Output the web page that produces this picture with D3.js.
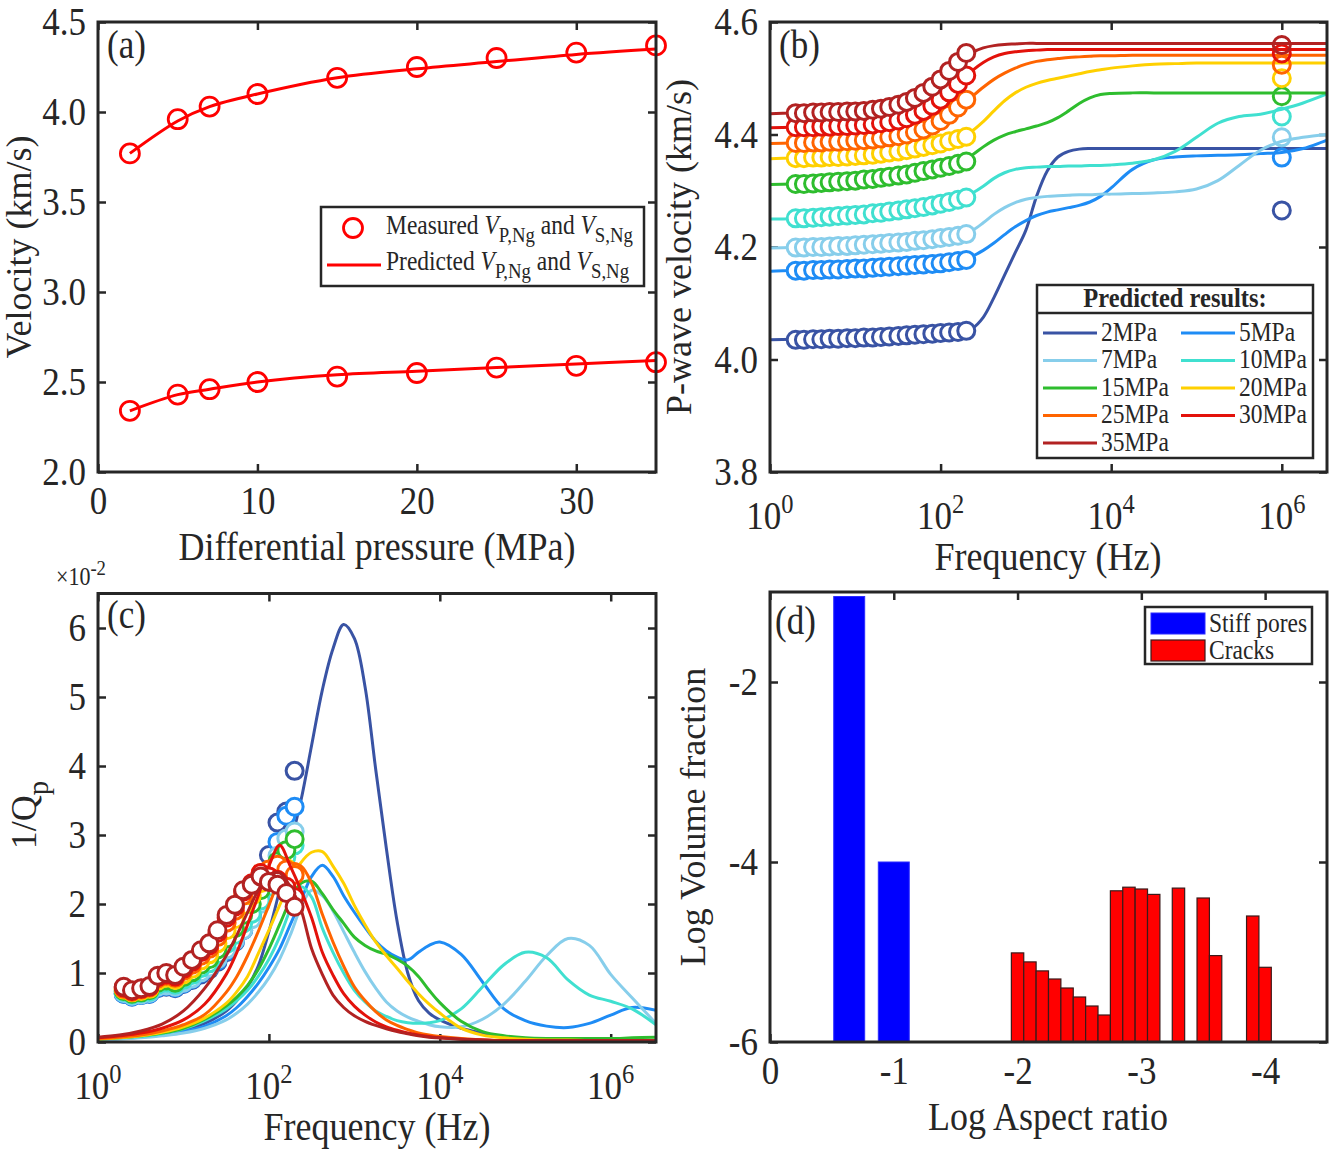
<!DOCTYPE html>
<html>
<head>
<meta charset="utf-8">
<script src="https://cdn.jsdelivr.net/npm/d3@7/dist/d3.min.js"></script>
<style>
  html, body { margin: 0; padding: 0; background: #fff; }
  svg { display: block; }
</style>
</head>
<body>
<svg id="fig" width="1330" height="1149"></svg>
<script>
// ---------------- (a) velocity vs differential pressure ----------------
const diffPressure = [2, 5, 7, 10, 15, 20, 25, 30, 35];
const vpMeasured  = [3.77, 3.96, 4.03, 4.10, 4.19, 4.25, 4.30, 4.33, 4.37];
const vsMeasured  = [2.34, 2.43, 2.46, 2.50, 2.53, 2.55, 2.58, 2.59, 2.61];
const vpPredicted = [3.77, 3.95, 4.03, 4.10, 4.19, 4.24, 4.28, 4.32, 4.35];
const vsPredicted = [2.34, 2.43, 2.46, 2.50, 2.54, 2.56, 2.58, 2.60, 2.62];
const xTicksA = [0, 10, 20, 30];
const yTicksA = [2.0, 2.5, 3.0, 3.5, 4.0, 4.5];

// ---------------- shared by (b) and (c) ----------------
const pressureNames  = ["2MPa", "5MPa", "7MPa", "10MPa", "15MPa", "20MPa", "25MPa", "30MPa", "35MPa"];
const pressureColors = ["#3953a4", "#1e8cf5", "#87ceeb", "#40e0d0", "#2ebd2e", "#ffd000", "#ff6400", "#e3120b", "#b22222"];
const freqMeasured = [2, 2.5, 3.2, 4, 5, 6.3, 8, 10, 12.6, 16, 20, 25, 32, 40, 50, 63, 80, 100, 126, 160, 200];
const freqUltrasonic = 1e6;
// model curves are sampled at these powers of ten (Hz)
const modelFreqExp = [0, 0.25, 0.5, 0.75, 1, 1.25, 1.5, 1.625, 1.75, 1.875, 2, 2.125, 2.25, 2.375, 2.5, 2.625, 2.75, 2.875, 3,
  3.125, 3.25, 3.375, 3.5, 3.625, 3.75, 3.875, 4, 4.25, 4.5, 4.75, 5, 5.25, 5.5, 5.75, 6, 6.25, 6.53];
const freqTickExp = [0, 2, 4, 6];

// ---------------- (b) P-wave velocity (km/s) ----------------
const vpMeas_2MPa  = [4.035,4.035,4.036,4.036,4.037,4.037,4.038,4.038,4.039,4.039,4.040,4.041,4.042,4.043,4.044,4.045,4.046,4.047,4.048,4.049,4.051];
const vpMeas_5MPa  = [4.158,4.158,4.159,4.159,4.160,4.160,4.161,4.162,4.162,4.163,4.164,4.165,4.166,4.167,4.168,4.169,4.170,4.171,4.173,4.175,4.177];
const vpMeas_7MPa  = [4.199,4.199,4.200,4.200,4.201,4.202,4.202,4.203,4.204,4.205,4.206,4.207,4.208,4.209,4.211,4.212,4.214,4.216,4.218,4.220,4.223];
const vpMeas_10MPa = [4.251,4.251,4.252,4.253,4.254,4.255,4.256,4.257,4.258,4.260,4.261,4.263,4.265,4.267,4.269,4.271,4.274,4.277,4.280,4.284,4.288];
const vpMeas_15MPa = [4.312,4.312,4.313,4.314,4.315,4.316,4.317,4.318,4.320,4.321,4.323,4.325,4.327,4.329,4.332,4.335,4.338,4.341,4.344,4.348,4.352];
const vpMeas_20MPa = [4.358,4.358,4.359,4.359,4.360,4.360,4.361,4.362,4.363,4.364,4.366,4.368,4.370,4.372,4.375,4.378,4.381,4.384,4.388,4.392,4.396];
const vpMeas_25MPa = [4.385,4.385,4.386,4.386,4.387,4.387,4.388,4.389,4.390,4.391,4.393,4.395,4.397,4.400,4.404,4.409,4.416,4.424,4.435,4.448,4.462];
const vpMeas_30MPa = [4.413,4.413,4.413,4.414,4.414,4.415,4.415,4.416,4.417,4.418,4.420,4.422,4.425,4.429,4.435,4.442,4.451,4.462,4.475,4.490,4.505];
const vpMeas_35MPa = [4.438,4.438,4.439,4.439,4.440,4.440,4.441,4.441,4.442,4.444,4.446,4.449,4.453,4.458,4.465,4.474,4.485,4.498,4.513,4.529,4.545];
const vpUltrasonic = [4.265, 4.359, 4.395, 4.432, 4.468, 4.500, 4.524, 4.544, 4.559];

const vpModel_2MPa  = [4.035,4.036,4.037,4.038,4.039,4.040,4.042,4.043,4.044,4.046,4.048,4.050,4.052,4.056,4.075,4.110,4.150,4.190,4.230,
  4.290,4.335,4.360,4.370,4.374,4.375,4.375,4.375,4.375,4.375,4.375,4.375,4.375,4.375,4.375,4.375,4.375,4.375];
const vpModel_5MPa  = [4.157,4.158,4.159,4.160,4.161,4.163,4.165,4.167,4.169,4.171,4.173,4.176,4.179,4.184,4.194,4.207,4.222,4.236,4.247,
  4.256,4.262,4.266,4.270,4.274,4.280,4.290,4.305,4.338,4.355,4.360,4.362,4.363,4.364,4.366,4.368,4.375,4.390];
const vpModel_7MPa  = [4.198,4.199,4.200,4.201,4.202,4.204,4.206,4.208,4.210,4.213,4.216,4.219,4.223,4.230,4.243,4.258,4.270,4.279,4.285,
  4.288,4.290,4.291,4.292,4.293,4.293,4.294,4.294,4.295,4.296,4.298,4.303,4.318,4.345,4.372,4.388,4.395,4.400];
const vpModel_10MPa = [4.250,4.250,4.252,4.254,4.256,4.259,4.263,4.266,4.269,4.272,4.276,4.281,4.287,4.296,4.308,4.322,4.332,4.338,4.341,
  4.342,4.343,4.343,4.344,4.344,4.345,4.345,4.346,4.349,4.355,4.370,4.395,4.420,4.432,4.436,4.445,4.456,4.472];
const vpModel_15MPa = [4.311,4.312,4.313,4.315,4.317,4.320,4.324,4.327,4.330,4.334,4.339,4.345,4.353,4.364,4.378,4.390,4.399,4.405,4.410,
  4.415,4.421,4.430,4.442,4.455,4.465,4.471,4.473,4.474,4.474,4.474,4.474,4.474,4.474,4.474,4.474,4.474,4.474];
const vpModel_20MPa = [4.357,4.358,4.359,4.360,4.361,4.363,4.366,4.369,4.373,4.378,4.384,4.390,4.397,4.407,4.423,4.442,4.460,4.474,4.484,
  4.491,4.496,4.500,4.504,4.508,4.512,4.515,4.518,4.522,4.525,4.526,4.527,4.527,4.527,4.527,4.527,4.527,4.527];
const vpModel_25MPa = [4.384,4.385,4.386,4.387,4.389,4.392,4.397,4.401,4.407,4.414,4.424,4.436,4.451,4.468,4.484,4.498,4.509,4.518,4.525,
  4.530,4.533,4.535,4.537,4.538,4.539,4.540,4.540,4.541,4.541,4.541,4.541,4.541,4.541,4.541,4.541,4.541,4.541];
const vpModel_30MPa = [4.412,4.413,4.413,4.414,4.416,4.419,4.425,4.430,4.438,4.448,4.462,4.479,4.497,4.514,4.528,4.538,4.544,4.547,4.549,
  4.550,4.551,4.551,4.551,4.551,4.551,4.551,4.551,4.551,4.551,4.551,4.551,4.551,4.551,4.551,4.551,4.551,4.551];
const vpModel_35MPa = [4.437,4.438,4.439,4.440,4.441,4.444,4.453,4.459,4.468,4.481,4.497,4.514,4.532,4.546,4.554,4.558,4.560,4.561,4.562,
  4.562,4.562,4.562,4.562,4.562,4.562,4.562,4.562,4.562,4.562,4.562,4.562,4.562,4.562,4.562,4.562,4.562,4.562];
const yTicksB = [3.8, 4.0, 4.2, 4.4, 4.6];

// ---------------- (c) P-wave attenuation 1/Qp, in units of 1e-2 ----------------
const qMeas_2MPa  = [0.70,0.66,0.68,0.70,0.78,0.80,0.78,0.84,0.90,0.98,1.05,1.16,1.30,1.45,1.62,1.85,2.25,2.71,3.18,3.34,3.93];
const qMeas_5MPa  = [0.70,0.66,0.68,0.70,0.79,0.81,0.79,0.85,0.91,1.00,1.07,1.18,1.32,1.46,1.62,1.80,2.05,2.45,2.90,3.28,3.41];
const qMeas_7MPa  = [0.71,0.67,0.69,0.71,0.80,0.82,0.80,0.86,0.92,1.01,1.08,1.20,1.34,1.47,1.62,1.78,2.00,2.35,2.70,2.95,3.05];
const qMeas_10MPa = [0.73,0.69,0.71,0.73,0.83,0.86,0.83,0.90,0.97,1.07,1.14,1.27,1.42,1.55,1.72,1.86,2.05,2.25,2.48,2.68,2.85];
const qMeas_15MPa = [0.74,0.70,0.72,0.75,0.86,0.89,0.86,0.94,1.01,1.12,1.20,1.34,1.50,1.65,1.84,2.00,2.20,2.45,2.62,2.78,2.94];
const qMeas_20MPa = [0.76,0.72,0.74,0.77,0.89,0.93,0.90,0.98,1.06,1.18,1.27,1.43,1.62,1.78,1.98,2.12,2.30,2.40,2.48,2.52,2.45];
const qMeas_25MPa = [0.77,0.73,0.76,0.79,0.92,0.96,0.93,1.03,1.12,1.25,1.35,1.52,1.73,1.90,2.12,2.28,2.45,2.50,2.57,2.50,2.42];
const qMeas_30MPa = [0.79,0.74,0.77,0.80,0.94,0.98,0.95,1.06,1.16,1.30,1.40,1.58,1.80,1.96,2.18,2.30,2.45,2.40,2.35,2.25,2.10];
const qMeas_35MPa = [0.80,0.75,0.78,0.81,0.96,1.00,0.97,1.09,1.19,1.33,1.43,1.62,1.84,1.99,2.20,2.28,2.40,2.32,2.28,2.16,1.96];

const qModel_2MPa  = [0.04,0.06,0.08,0.12,0.18,0.27,0.45,0.60,0.80,1.10,1.60,2.20,2.85,3.50,4.30,5.10,5.70,6.05,5.85,
  5.15,3.95,2.80,1.75,1.00,0.60,0.42,0.32,0.20,0.13,0.08,0.05,0.04,0.03,0.03,0.02,0.02,0.02];
const qModel_5MPa  = [0.04,0.05,0.07,0.10,0.15,0.23,0.38,0.50,0.66,0.85,1.08,1.35,1.70,2.05,2.40,2.56,2.40,2.12,1.88,
  1.66,1.46,1.32,1.23,1.19,1.30,1.40,1.45,1.27,0.87,0.48,0.31,0.23,0.21,0.27,0.39,0.50,0.46];
const qModel_7MPa  = [0.03,0.04,0.06,0.09,0.13,0.20,0.32,0.42,0.55,0.72,0.93,1.20,1.55,1.95,2.20,2.12,1.90,1.60,1.30,
  1.02,0.78,0.58,0.45,0.36,0.30,0.25,0.22,0.22,0.33,0.55,0.88,1.25,1.50,1.40,0.98,0.64,0.27];
const qModel_10MPa = [0.04,0.06,0.08,0.12,0.19,0.31,0.48,0.60,0.75,0.95,1.20,1.52,1.92,2.25,2.10,1.65,1.30,1.00,0.75,
  0.58,0.45,0.37,0.31,0.28,0.27,0.28,0.31,0.48,0.80,1.12,1.30,1.22,0.90,0.68,0.59,0.48,0.25];
const qModel_15MPa = [0.04,0.06,0.09,0.13,0.20,0.33,0.52,0.65,0.82,1.05,1.35,1.70,2.05,2.30,2.33,2.15,1.92,1.72,1.52,
  1.40,1.32,1.27,1.20,1.10,0.95,0.75,0.57,0.30,0.15,0.09,0.06,0.05,0.05,0.05,0.05,0.06,0.07];
const qModel_20MPa = [0.04,0.06,0.09,0.14,0.22,0.35,0.56,0.73,0.95,1.28,1.62,1.98,2.32,2.60,2.75,2.76,2.55,2.30,1.98,
  1.70,1.45,1.25,1.07,0.88,0.70,0.55,0.42,0.20,0.10,0.06,0.04,0.03,0.03,0.02,0.02,0.02,0.02];
const qModel_25MPa = [0.05,0.07,0.10,0.16,0.25,0.40,0.72,0.95,1.25,1.60,1.98,2.35,2.58,2.55,2.30,1.85,1.45,1.10,0.80,
  0.60,0.44,0.32,0.24,0.18,0.13,0.10,0.08,0.05,0.03,0.02,0.02,0.02,0.02,0.02,0.02,0.02,0.02];
const qModel_30MPa = [0.06,0.09,0.13,0.20,0.32,0.55,0.98,1.30,1.70,2.12,2.55,2.85,2.55,2.20,1.80,1.30,0.97,0.70,0.52,
  0.39,0.29,0.22,0.17,0.13,0.10,0.08,0.06,0.04,0.03,0.02,0.02,0.02,0.02,0.02,0.02,0.02,0.02];
const qModel_35MPa = [0.07,0.10,0.16,0.26,0.45,0.78,1.25,1.55,1.88,2.20,2.42,2.45,2.25,1.92,1.35,0.98,0.68,0.50,0.38,
  0.30,0.24,0.19,0.15,0.12,0.09,0.07,0.06,0.04,0.03,0.02,0.02,0.02,0.02,0.02,0.02,0.02,0.02];
const yTicksC = [0, 1, 2, 3, 4, 5, 6];

// ---------------- (d) pore aspect-ratio spectrum ----------------
const stiffAspect = [-0.64, -1.0];
const stiffLogFraction = [-1.05, -4.0];
const crackAspect = [-2.0, -2.1, -2.2, -2.3, -2.4, -2.5, -2.6, -2.7, -2.8, -2.9, -3.0, -3.1, -3.3, -3.5, -3.6, -3.9, -4.0];
const crackLogFraction = [-5.01, -5.11, -5.21, -5.30, -5.40, -5.50, -5.60, -5.70, -4.32, -4.28, -4.30, -4.36, -4.29, -4.40, -5.04, -4.60, -5.17];
const xTicksD = [0, -1, -2, -3, -4];
const yTicksD = [-6, -4, -2];

// ====================================================================
const FONT = '"Liberation Serif", "Times New Roman", Times, serif';
const INK = "#262626";
const TICK_FS = 35, LABEL_FS = 36, LEG_FS = 23.5;
const MARK_R = 8.5, MARK_W = 3;
const GLYPH_STRETCH = 1.12;   // the serif face is set slightly tall
const svg = d3.select("#fig");

const vpMeasByP  = [vpMeas_2MPa, vpMeas_5MPa, vpMeas_7MPa, vpMeas_10MPa, vpMeas_15MPa, vpMeas_20MPa, vpMeas_25MPa, vpMeas_30MPa, vpMeas_35MPa];
const vpModelByP = [vpModel_2MPa, vpModel_5MPa, vpModel_7MPa, vpModel_10MPa, vpModel_15MPa, vpModel_20MPa, vpModel_25MPa, vpModel_30MPa, vpModel_35MPa];
const qMeasByP   = [qMeas_2MPa, qMeas_5MPa, qMeas_7MPa, qMeas_10MPa, qMeas_15MPa, qMeas_20MPa, qMeas_25MPa, qMeas_30MPa, qMeas_35MPa];
const qModelByP  = [qModel_2MPa, qModel_5MPa, qModel_7MPa, qModel_10MPa, qModel_15MPa, qModel_20MPa, qModel_25MPa, qModel_30MPa, qModel_35MPa];
const modelFreq = modelFreqExp.map(e => Math.pow(10, e));

// text with optional italic / sub / superscript runs
function richText(parent, x, y, parts, size, anchor, extra) {
  const t = parent.append("text")
    .attr("x", x).attr("y", y)
    .attr("font-family", FONT).attr("font-size", size)
    .attr("fill", INK).attr("text-anchor", anchor || "start");
  if (extra) extra(t);
  let shift = 0;
  parts.forEach(p => {
    const target = p.sub ? size * 0.32 : p.sup ? -size * 0.42 : 0;
    const ts = t.append("tspan").attr("dy", target - shift).text(p.t);
    shift = target;
    if (p.sub || p.sup) ts.attr("font-size", size * (p.scale || 0.75));
    if (p.italic) ts.attr("font-style", "italic");
    if (p.bold) ts.attr("font-weight", "bold");
  });
  return t;
}

// box with inward ticks on all four sides
function drawFrame(g, x, y, xTicks, yTicks, xFmt, yFmt, xPad) {
  const xr = x.range(), yr = y.range();
  const L = Math.min(...xr), R = Math.max(...xr), T = Math.min(...yr), B = Math.max(...yr);
  const tk = 8;
  g.append("g").attr("transform", `translate(0,${B})`)
    .call(d3.axisBottom(x).tickValues(xTicks).tickSize(-tk).tickPadding(xPad).tickFormat(xFmt));
  g.append("g").attr("transform", `translate(0,${T})`)
    .call(d3.axisTop(x).tickValues(xTicks).tickSize(-tk).tickFormat(() => ""));
  g.append("g").attr("transform", `translate(${L},0)`)
    .call(d3.axisLeft(y).tickValues(yTicks).tickSize(-tk).tickPadding(12).tickFormat(yFmt));
  g.append("g").attr("transform", `translate(${R},0)`)
    .call(d3.axisRight(y).tickValues(yTicks).tickSize(-tk).tickFormat(() => ""));
  g.selectAll(".domain").remove();
  g.selectAll(".tick line").attr("stroke", INK).attr("stroke-width", 2.5);
  g.selectAll(".tick text").attr("font-family", FONT).attr("font-size", TICK_FS).attr("fill", INK);
  return {L, R, T, B};
}
function drawBorder(g, b) {
  g.append("rect").attr("x", b.L).attr("y", b.T).attr("width", b.R - b.L).attr("height", b.B - b.T)
    .attr("fill", "none").attr("stroke", INK).attr("stroke-width", 3);
}
function logTickLabels(g, x, exps, yBase) {
  exps.forEach(e => richText(g, x(Math.pow(10, e)), yBase, [{t: "10"}, {t: String(e), sup: true, scale: 0.7}], TICK_FS, "middle"));
}
function yLabel(g, cx, cy, parts) {
  return richText(g, 0, 0, parts, LABEL_FS, "middle",
    t => t.attr("transform", `translate(${cx},${cy}) rotate(-90)`).attr("dy", "0.35em"));
}
function clipTo(id, b) {
  svg.append("clipPath").attr("id", id).append("rect")
    .attr("x", b.L).attr("y", b.T).attr("width", b.R - b.L).attr("height", b.B - b.T);
}
const smooth = d3.curveCatmullRom.alpha(0.5);
const plainNumber = d => String(d);   // keeps the ASCII hyphen for negatives

// ====================== panel (a) ======================
{
  const x = d3.scaleLinear().domain([0, 35]).range([98, 656]);
  const y = d3.scaleLinear().domain([2, 4.5]).range([472, 22]);
  const g = svg.append("g");
  const b = drawFrame(g, x, y, xTicksA, yTicksA, d3.format("d"), d3.format(".1f"), 14);
  clipTo("clipA", b);
  const line = d3.line().x((d, i) => x(diffPressure[i])).y(d => y(d)).curve(smooth);
  const red = "#ff0000";
  const data = g.append("g");
  [vpPredicted, vsPredicted].forEach(s => data.append("path").attr("d", line(s))
    .attr("fill", "none").attr("stroke", red).attr("stroke-width", 3));
  [vpMeasured, vsMeasured].forEach(s => data.selectAll(null).data(s).enter().append("circle")
    .attr("cx", (d, i) => x(diffPressure[i])).attr("cy", d => y(d)).attr("r", 9.5)
    .attr("fill", "none").attr("stroke", red).attr("stroke-width", 2.8));
  drawBorder(g, b);
  richText(g, 107, 58, [{t: "(a)"}], 35);
  richText(g, 377, 560, [{t: "Differential pressure (MPa)"}], LABEL_FS, "middle");
  yLabel(g, 31, 247, [{t: "Velocity (km/s)"}]);

  // legend
  const lg = g.append("g");
  lg.append("rect").attr("x", 321).attr("y", 207).attr("width", 323).attr("height", 79)
    .attr("fill", "#fff").attr("stroke", INK).attr("stroke-width", 2.5);
  lg.append("circle").attr("cx", 353).attr("cy", 228).attr("r", 9.5)
    .attr("fill", "none").attr("stroke", red).attr("stroke-width", 2.8);
  lg.append("line").attr("x1", 327).attr("x2", 381).attr("y1", 265).attr("y2", 265)
    .attr("stroke", red).attr("stroke-width", 3);
  richText(lg, 386, 234, [{t: "Measured "}, {t: "V", italic: true}, {t: "P,Ng", sub: true, scale: 0.8},
    {t: " and "}, {t: "V", italic: true}, {t: "S,Ng", sub: true, scale: 0.8}], LEG_FS);
  richText(lg, 386, 270, [{t: "Predicted "}, {t: "V", italic: true}, {t: "P,Ng", sub: true, scale: 0.8},
    {t: " and "}, {t: "V", italic: true}, {t: "S,Ng", sub: true, scale: 0.8}], LEG_FS);
}

// ====================== panel (b) ======================
{
  const x = d3.scaleLog().domain([1, Math.pow(10, 6.53)]).range([770, 1327]);
  const y = d3.scaleLinear().domain([3.8, 4.6]).range([472, 22]);
  const g = svg.append("g");
  const b = drawFrame(g, x, y, freqTickExp.map(e => Math.pow(10, e)), yTicksB, () => "", d3.format(".1f"), 16);
  clipTo("clipB", b);
  logTickLabels(g, x, freqTickExp, 472 + 57);
  const data = g.append("g").attr("clip-path", "url(#clipB)");
  const line = d3.line().x((d, i) => x(modelFreq[i])).y(d => y(d)).curve(smooth);
  pressureNames.forEach((name, k) => {
    const c = pressureColors[k];
    data.append("path").attr("d", line(vpModelByP[k]))
      .attr("fill", "none").attr("stroke", c).attr("stroke-width", 3);
    data.selectAll(null).data(vpMeasByP[k]).enter().append("circle")
      .attr("cx", (d, i) => x(freqMeasured[i])).attr("cy", d => y(d)).attr("r", MARK_R)
      .attr("fill", "#fff").attr("stroke", c).attr("stroke-width", MARK_W);
    data.append("circle").attr("cx", x(freqUltrasonic)).attr("cy", y(vpUltrasonic[k])).attr("r", MARK_R)
      .attr("fill", "none").attr("stroke", c).attr("stroke-width", MARK_W);
  });
  drawBorder(g, b);
  richText(g, 779, 58, [{t: "(b)"}], 35);
  richText(g, 1048, 570, [{t: "Frequency (Hz)"}], LABEL_FS, "middle");
  yLabel(g, 691, 247, [{t: "P-wave velocity (km/s)"}]);

  // legend
  const lg = g.append("g");
  lg.append("rect").attr("x", 1037).attr("y", 285).attr("width", 276).attr("height", 173)
    .attr("fill", "#fff").attr("stroke", INK).attr("stroke-width", 2.5);
  lg.append("line").attr("x1", 1037).attr("x2", 1313).attr("y1", 313).attr("y2", 313)
    .attr("stroke", INK).attr("stroke-width", 2.5);
  richText(lg, 1175, 307, [{t: "Predicted results:", bold: true}], 24.5, "middle");
  pressureNames.forEach((name, k) => {
    const row = Math.floor(k / 2), col = k % 2;
    const cy = 333 + row * 27.5;
    const lx = col === 0 ? 1043 : 1181;
    lg.append("line").attr("x1", lx).attr("x2", lx + 54).attr("y1", cy).attr("y2", cy)
      .attr("stroke", pressureColors[k]).attr("stroke-width", 3);
    richText(lg, lx + 58, cy + 8, [{t: name}], LEG_FS);
  });
}

// ====================== panel (c) ======================
{
  const x = d3.scaleLog().domain([1, Math.pow(10, 6.53)]).range([98, 656]);
  const y = d3.scaleLinear().domain([0, 6.5]).range([1042, 593.5]);
  const g = svg.append("g");
  const b = drawFrame(g, x, y, freqTickExp.map(e => Math.pow(10, e)), yTicksC, () => "", d3.format("d"), 16);
  clipTo("clipC", b);
  logTickLabels(g, x, freqTickExp, 1042 + 57);
  const data = g.append("g").attr("clip-path", "url(#clipC)");
  const line = d3.line().x((d, i) => x(modelFreq[i])).y(d => y(d)).curve(smooth);
  pressureNames.forEach((name, k) => {
    const c = pressureColors[k];
    data.append("path").attr("d", line(qModelByP[k]))
      .attr("fill", "none").attr("stroke", c).attr("stroke-width", 3);
    data.selectAll(null).data(qMeasByP[k]).enter().append("circle")
      .attr("cx", (d, i) => x(freqMeasured[i])).attr("cy", d => y(d)).attr("r", MARK_R)
      .attr("fill", "#fff").attr("stroke", c).attr("stroke-width", MARK_W);
  });
  drawBorder(g, b);
  richText(g, 107, 628, [{t: "(c)"}], 35);
  richText(g, 56, 585, [{t: "×10"}, {t: "-2", sup: true, scale: 0.85}], 22);
  richText(g, 377, 1140, [{t: "Frequency (Hz)"}], LABEL_FS, "middle");
  yLabel(g, 36, 815, [{t: "1/Q"}, {t: "p", sub: true, scale: 0.8}]);
}

// ====================== panel (d) ======================
{
  const x = d3.scaleLinear().domain([0, -4.5]).range([770, 1327]);
  const y = d3.scaleLinear().domain([-6, -1]).range([1042, 592]);
  const g = svg.append("g");
  const b = drawFrame(g, x, y, xTicksD, yTicksD, plainNumber, plainNumber, 14);
  const stiffW = 0.25, crackW = 0.1;
  const bars = g.append("g");
  const barX = (c, w) => Math.min(x(c - w / 2), x(c + w / 2));
  const barW = w => Math.abs(x(w) - x(0));
  bars.selectAll(null).data(stiffLogFraction).enter().append("rect")
    .attr("x", (d, i) => barX(stiffAspect[i], stiffW)).attr("width", barW(stiffW))
    .attr("y", d => y(d)).attr("height", d => y(-6) - y(d))
    .attr("fill", "#0000ff").attr("stroke", "#2a2aff").attr("stroke-width", 1);
  bars.selectAll(null).data(crackLogFraction).enter().append("rect")
    .attr("x", (d, i) => barX(crackAspect[i], crackW)).attr("width", barW(crackW))
    .attr("y", d => y(d)).attr("height", d => y(-6) - y(d))
    .attr("fill", "#ff0000").attr("stroke", "#3a1a1a").attr("stroke-width", 1.2);
  drawBorder(g, b);
  richText(g, 775, 634, [{t: "(d)"}], 35);
  richText(g, 1048, 1130, [{t: "Log Aspect ratio"}], LABEL_FS, "middle");
  yLabel(g, 705, 817, [{t: "Log Volume fraction"}]);

  // legend
  const lg = g.append("g");
  lg.append("rect").attr("x", 1145).attr("y", 607).attr("width", 167).attr("height", 57)
    .attr("fill", "#fff").attr("stroke", INK).attr("stroke-width", 2.5);
  lg.append("rect").attr("x", 1151).attr("y", 613).attr("width", 54).attr("height", 21)
    .attr("fill", "#0000ff").attr("stroke", "#2a2aff").attr("stroke-width", 1);
  lg.append("rect").attr("x", 1151).attr("y", 640).attr("width", 54).attr("height", 21)
    .attr("fill", "#ff0000").attr("stroke", "#3a1a1a").attr("stroke-width", 1.2);
  richText(lg, 1209, 632, [{t: "Stiff pores"}], LEG_FS);
  richText(lg, 1209, 659, [{t: "Cracks"}], LEG_FS);
}

// stretch horizontal glyphs a little taller about their anchor point
svg.selectAll("text").each(function () {
  const t = d3.select(this);
  if (t.attr("transform")) return;
  const x = +(t.attr("x") || 0), y = +(t.attr("y") || 0);
  t.attr("transform", `translate(${x},${y}) scale(1,${GLYPH_STRETCH}) translate(${-x},${-y})`);
});
</script>
</body>
</html>
